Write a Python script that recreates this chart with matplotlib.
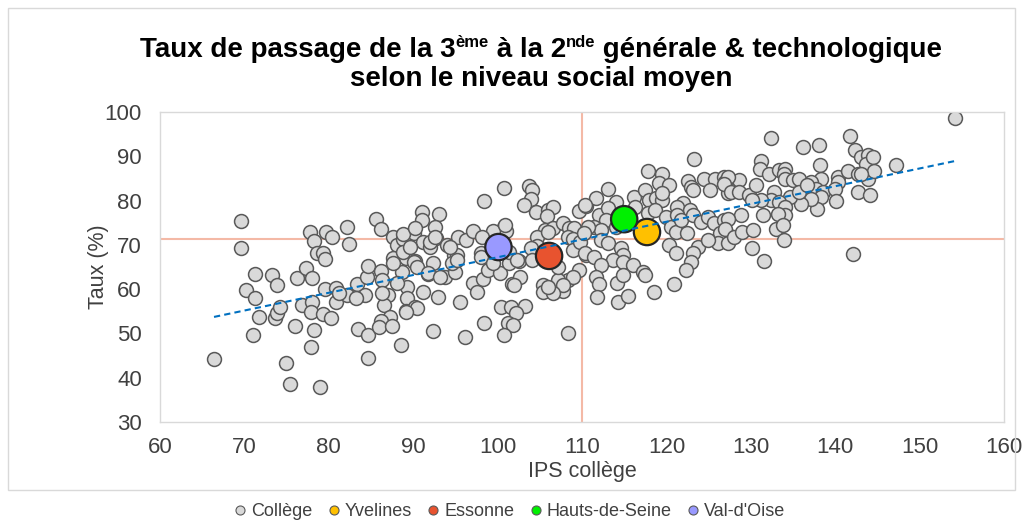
import numpy as np
import matplotlib
matplotlib.use("Agg")
import matplotlib.pyplot as plt
from matplotlib.patches import Rectangle
from matplotlib.lines import Line2D

plt.rcParams['font.family'] = ['Liberation Sans', 'DejaVu Sans']

# ---------------- data ----------------
college_points = [
    (69.6, 75.4), (69.6, 69.3), (66.4, 44.2), (71.3, 63.4), (73.3, 63.2), (73.9, 61.0),
    (70.2, 59.8), (71.3, 58.0), (71.7, 53.7), (73.6, 53.5), (73.9, 54.6), (74.2, 56.0),
    (71.0, 49.7), (76.0, 51.7), (74.9, 43.3), (75.4, 38.6), (76.2, 62.5), (77.3, 64.8),
    (78.0, 62.5), (76.8, 56.4), (77.9, 47.0), (77.8, 72.9), (79.7, 72.9), (78.3, 70.9),
    (80.4, 71.8), (82.1, 74.0), (82.4, 70.2), (78.6, 68.2), (79.3, 68.2), (79.5, 66.8),
    (79.6, 60.0), (80.9, 60.3), (78.0, 57.1), (77.9, 54.9), (79.3, 54.4), (80.3, 53.5),
    (80.8, 57.1), (78.3, 50.8), (79.0, 37.9),
    (83.5, 51.0), (84.6, 49.7), (84.6, 44.5), (83.4, 61.2), (84.3, 58.7), (82.2, 58.7),
    (84.5, 62.8), (84.7, 65.2), (85.6, 75.8), (86.2, 73.6), (81.2, 59.1), (83.2, 58.0),
    (86.2, 64.1), (86.3, 62.1), (87.0, 58.7), (86.5, 56.4), (87.2, 53.7), (86.2, 52.8),
    (85.9, 51.5), (87.5, 51.7), (88.6, 47.4), (87.6, 71.8), (88.1, 70.0), (88.8, 71.3),
    (87.6, 67.0), (89.2, 67.0), (88.7, 63.9), (89.3, 60.5), (88.1, 61.4), (89.3, 58.0),
    (89.2, 55.1), (90.2, 56.0), (90.1, 72.7), (91.0, 77.4), (91.0, 75.6), (93.0, 77.0),
    (92.6, 74.0), (90.2, 66.4), (91.2, 70.7), (92.0, 69.5), (92.7, 71.6), (92.4, 65.9),
    (91.8, 63.4), (91.2, 59.4), (92.9, 58.2), (92.4, 50.6), (93.8, 62.8), (94.0, 70.0),
    (87.6, 65.9), (88.8, 68.4), (90.1, 66.1), (90.4, 65.0), (91.7, 63.7), (94.8, 67.7),
    (93.2, 62.8), (95.0, 63.9), (89.6, 69.5), (88.8, 72.5), (90.2, 73.8), (92.0, 70.7),
    (92.6, 71.8), (86.3, 59.1), (90.5, 55.8), (89.1, 54.9),
    (95.3, 71.8), (96.3, 71.1), (97.1, 73.1), (98.4, 79.9), (100.7, 82.8), (103.7, 83.3),
    (104.1, 82.4), (103.9, 80.4), (103.1, 79.0), (104.6, 77.4), (106.0, 77.9), (106.6, 78.6),
    (105.8, 76.5), (105.6, 73.4), (106.6, 73.8), (107.8, 74.9), (108.5, 73.8), (104.7, 71.8),
    (104.7, 69.8), (95.2, 67.7), (94.6, 65.9), (95.5, 57.1), (96.1, 49.2), (97.1, 61.4),
    (97.6, 59.4), (98.3, 62.3), (98.9, 64.3), (100.3, 63.7), (101.7, 61.2), (102.7, 62.8),
    (102.5, 66.4), (101.3, 65.9), (101.3, 68.4), (100.7, 74.0), (101.0, 73.1), (98.0, 68.2),
    (100.4, 56.0), (101.6, 56.0), (103.2, 56.2), (102.2, 54.6), (101.2, 52.4), (101.8, 51.9),
    (100.7, 49.7), (98.4, 52.4), (105.4, 61.0), (105.4, 59.4), (106.7, 59.4), (107.8, 59.6),
    (108.3, 62.1), (108.3, 50.1), (105.3, 67.3), (109.7, 77.7), (110.5, 78.8), (99.4, 73.1),
    (100.9, 74.5), (98.2, 71.8), (94.4, 69.5), (95.2, 66.6), (98.0, 67.3), (99.5, 65.9),
    (102.3, 66.6), (101.9, 61.0), (103.9, 69.3), (104.1, 66.6), (106.0, 72.9), (109.0, 73.8),
    (108.3, 71.8), (108.9, 71.3), (108.9, 68.8), (109.8, 70.7), (110.5, 67.7), (109.7, 64.3),
    (108.9, 62.8), (107.1, 62.1), (107.7, 61.0), (106.6, 59.1), (106.0, 60.5), (107.1, 65.0),
    (123.3, 89.4), (117.8, 86.7), (119.5, 86.0), (119.1, 84.0), (120.3, 83.5), (122.6, 84.4),
    (122.9, 83.1), (123.2, 82.4), (124.4, 84.9), (125.8, 84.9), (126.8, 85.3), (127.0, 84.2),
    (125.2, 82.4), (127.3, 81.7), (113.1, 82.6), (111.6, 80.6), (110.4, 79.0), (114.0, 79.7),
    (116.2, 80.8), (117.5, 82.4), (117.9, 80.1), (118.8, 80.6), (119.5, 80.1), (119.5, 81.7),
    (122.0, 79.5), (121.3, 78.6), (122.8, 77.9), (112.0, 76.7), (113.1, 78.3), (112.8, 75.6),
    (114.0, 74.0), (111.4, 74.0), (112.2, 73.4), (110.7, 74.0), (110.2, 72.7), (116.3, 78.6),
    (117.8, 77.2), (118.7, 77.9), (119.9, 76.3), (120.5, 74.0), (121.1, 72.9), (122.5, 72.7),
    (121.3, 76.7), (121.7, 75.6), (123.1, 76.7), (124.1, 75.2), (124.9, 76.3), (125.6, 74.9),
    (126.8, 75.6), (127.3, 72.2), (126.4, 72.7), (126.1, 70.4), (127.3, 70.4), (112.2, 71.1),
    (113.1, 70.4), (110.4, 68.2), (111.4, 67.3), (114.6, 69.3), (114.8, 67.7), (113.7, 66.6),
    (112.2, 65.5), (114.9, 66.1), (116.1, 65.5), (117.2, 63.9), (117.5, 63.2), (120.3, 70.0),
    (121.1, 68.2), (123.8, 69.5), (124.9, 71.1), (123.2, 68.2), (122.9, 66.1), (122.3, 64.3),
    (120.9, 61.2), (118.5, 59.4), (114.2, 61.4), (114.9, 63.2), (111.6, 62.8), (112.0, 61.2),
    (111.8, 58.2), (114.3, 57.1), (115.4, 58.5),
    (132.4, 94.1), (136.2, 92.1), (138.1, 92.6), (141.7, 94.6), (142.4, 91.4), (143.0, 89.8),
    (143.9, 90.3), (143.7, 88.3), (138.2, 88.0), (131.2, 88.9), (131.1, 87.1), (132.1, 86.0),
    (133.3, 86.9), (134.1, 87.1), (133.9, 86.0), (134.1, 84.9), (135.0, 84.7), (135.7, 84.9),
    (138.3, 84.9), (137.1, 84.2), (137.7, 82.6), (138.5, 81.9), (138.3, 80.8), (140.3, 85.3),
    (140.3, 84.2), (141.5, 86.7), (142.7, 86.0), (143.9, 84.9), (140.0, 82.6), (142.7, 81.9),
    (144.1, 81.3), (140.1, 79.9), (137.9, 78.1), (137.1, 80.4), (135.9, 79.2), (134.7, 80.8),
    (135.7, 81.9), (136.7, 83.5), (132.7, 81.9), (132.4, 80.1), (133.3, 79.7), (134.1, 78.6),
    (134.1, 76.7), (133.2, 77.0), (133.0, 73.6), (133.8, 74.5), (133.9, 71.1), (128.6, 84.7),
    (127.3, 85.3), (126.8, 83.7), (127.6, 81.9), (128.6, 81.9), (129.8, 81.3), (130.6, 83.5),
    (131.2, 80.1), (130.2, 80.1), (131.4, 76.7), (128.8, 76.7), (127.3, 75.8), (127.0, 73.6),
    (128.0, 71.8), (129.0, 72.9), (130.3, 73.4), (130.2, 69.3), (131.6, 66.4), (142.1, 68.0),
    (154.2, 98.6), (147.2, 88.0), (144.5, 89.8), (144.6, 86.7), (143.0, 86.0),
]
college_ips = [p[0] for p in college_points]
college_taux = [p[1] for p in college_points]

dept_names = ["Yvelines", "Essonne", "Hauts-de-Seine", "Val-d'Oise"]
dept_ips = [117.7, 106.1, 115.0, 100.1]
dept_taux = [72.9, 67.5, 75.8, 69.5]
dept_colors = ["#FFC000", "#E8532F", "#00F000", "#9999FF"]

mean_ips = 110.0
mean_taux = 71.3
trend_slope = 0.401
trend_intercept = 27.1

x_ticks = list(range(60, 161, 10))
y_ticks = list(range(30, 101, 10))

# ---------------- figure ----------------
W, H = 1022, 528
fig = plt.figure(figsize=(W / 100, H / 100), dpi=100)
fig.patch.set_facecolor("white")

# chart-area border
fig.add_artist(Rectangle((8 / W, 1 - 490 / H), (1015 - 8) / W, (490 - 8) / H,
                         transform=fig.transFigure, fill=False,
                         edgecolor="#D9D9D9", linewidth=1.0))

ax = fig.add_axes([160 / W, 1 - 422 / H, (1004 - 160) / W, (422 - 112) / H])
ax.set_xlim(60, 160)
ax.set_ylim(30, 100)
ax.set_xticks(x_ticks)
ax.set_yticks(y_ticks)
for s in ax.spines.values():
    s.set_color("#D9D9D9")
    s.set_linewidth(1.0)
ax.tick_params(length=0, labelsize=16, colors="#404040")
ax.tick_params(axis="y", pad=13)
ax.tick_params(axis="x", pad=11)

ax.axhline(mean_taux, color="#F4B9A6", linewidth=1.5, zorder=1)
ax.axvline(mean_ips, color="#F4B9A6", linewidth=1.5, zorder=1)

ax.scatter(college_ips, college_taux, s=100, facecolor="#D9D9D9",
           edgecolor="#595959", linewidth=1.1, zorder=2)
ax.scatter(dept_ips, dept_taux, s=360, c=dept_colors,
           edgecolor="#262626", linewidth=1.6, zorder=3)

xt = np.array([min(college_ips), max(college_ips)])
ax.plot(xt, trend_slope * xt + trend_intercept, linestyle=(0, (3, 2)),
        color="#0070C0", linewidth=1.5, zorder=4)

ax.set_xlabel("IPS collège", fontsize=15.5, color="#404040", labelpad=2)
ax.set_ylabel("Taux (%)", fontsize=15.5, color="#404040", labelpad=-3.4)

# ---------------- title with superscripts ----------------
fig.canvas.draw()
renderer = fig.canvas.get_renderer()
tsize = 20
segments = [("Taux de passage de la 3", False), ("ème", True),
            (" à la 2", False), ("nde", True),
            (" générale & technologique", False)]
texts = []
widths = []
for txt, sup in segments:
    t = fig.text(0, 0, txt, fontsize=tsize * (0.6 if sup else 1.0),
                 fontweight="bold", ha="left", va="baseline", color="black")
    widths.append(t.get_window_extent(renderer).width)
    texts.append((t, sup))
total = sum(widths)
cx = 541
x0 = cx - total / 2
base1 = 57
for (t, sup), w in zip(texts, widths):
    yb = base1 - (tsize * 0.5 if sup else 0)
    t.set_position((x0 / W, 1 - yb / H))
    x0 += w
fig.text(cx / W, 1 - 86 / H, "selon le niveau social moyen", fontsize=tsize,
         fontweight="bold", ha="center", va="baseline", color="black")

# ---------------- legend ----------------
handles = [Line2D([], [], marker="o", linestyle="none", markersize=6.5,
                  markerfacecolor="#D9D9D9", markeredgecolor="#595959",
                  markeredgewidth=0.8, label="Collège")]
for n, c in zip(dept_names, dept_colors):
    handles.append(Line2D([], [], marker="o", linestyle="none", markersize=6.5,
                          markerfacecolor=c, markeredgecolor="#595959",
                          markeredgewidth=0.8, label=n))
fig.legend(handles=handles, loc="center", bbox_to_anchor=(510 / W, 1 - 512 / H),
           ncol=5, frameon=False, fontsize=13, handlelength=0.6,
           handletextpad=0.3, columnspacing=0.9, labelcolor="#404040")

fig.savefig("out.png", dpi=100)
